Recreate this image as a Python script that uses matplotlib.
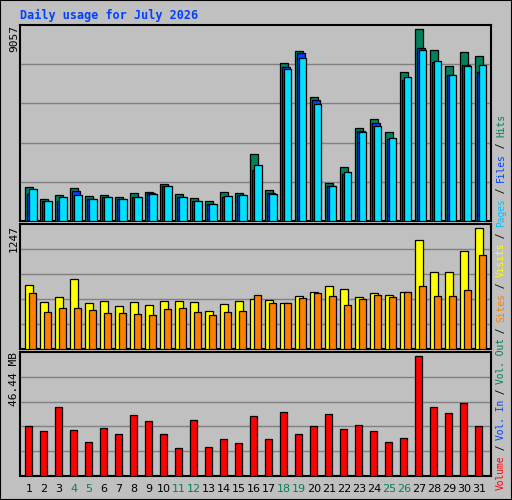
import matplotlib
matplotlib.use("Agg")
import matplotlib.pyplot as plt
import numpy as np

days = list(range(1, 32))
weekend = [4, 5, 11, 12, 18, 19, 25, 26]
hits_y = [562,598,586,565,589,586,592,580,577,553,583,595,604,577,580,463,571,190,154,292,550,502,385,358,397,217,88,151,199,157,169]
files_y = [582,604,602,574,598,592,598,592,578,559,592,604,613,592,586,511,580,202,160,301,559,523,394,370,418,241,145,187,226,196,217]
pages_y = [568,604,592,586,598,592,598,592,583,559,592,604,613,589,586,496,583,208,175,313,559,517,397,379,415,232,151,184,226,199,196]
hits = [round((663 - v) * 15.40) for v in hits_y]
files = [round((663 - v) * 15.40) for v in files_y]
pages = [round((663 - v) * 15.40) for v in pages_y]
visits_y = [196,247,232,178,250,244,259,247,256,244,244,247,274,253,244,238,241,250,229,217,199,208,232,220,226,217,61,157,157,94,25]
sites_y = [220,277,265,265,271,280,280,283,286,268,265,277,286,277,274,226,250,250,235,220,229,256,238,226,232,217,199,229,229,211,106]
visits = [round((386 - v) * 3.343) for v in visits_y]
sites = [round((386 - v) * 3.343) for v in sites_y]
vol_y = [619,634,562,631,667,625,643,586,604,643,685,601,682,658,670,589,658,577,643,619,583,628,616,634,667,655,409,562,580,550,619]
volume = [round((767 - v) * 0.12551, 2) for v in vol_y]
max_hits, max_visits, max_vol = 9057, 1247, 46.44

BG = "#c0c0c0"
GREEN, BLUE, CYAN = "#00805c", "#0040ff", "#00e0ff"
YEL, ORG, RED = "#ffff00", "#ff8000", "#ff0000"
W, H = 512, 500
fig = plt.figure(figsize=(5.12, 5.0), dpi=100, facecolor=BG)

def add_ax(top, bottom):
    ax = fig.add_axes([20 / W, 1 - bottom / H, 471 / W, (bottom - top) / H])
    ax.set_facecolor(BG)
    ax.set_xlim(0, 471 / 15)
    ax.set_xticks([]); ax.set_yticks([])
    for s in ax.spines.values():
        s.set_linewidth(1.5); s.set_color("black")
    return ax

x = np.array(days, dtype=float) - 1 + 1 / 3
kw = dict(align="edge", edgecolor="black", linewidth=0.9, zorder=3)

ax1 = add_ax(25, 221)
ax1.set_ylim(0, max_hits)
for k in range(1, 5):
    ax1.axhline(max_hits * k / 5, color="#808080", lw=1, zorder=1)
ax1.bar(x, hits, width=8 / 15, color=GREEN, **kw)
ax1.bar(x + 2 / 15, files, width=7.5 / 15, color=BLUE, **kw)
ax1.bar(x + 4 / 15, pages, width=7.5 / 15, color=CYAN, **kw)

ax2 = add_ax(224.3, 348.7)
ax2.set_ylim(0, max_visits)
for k in range(1, 5):
    ax2.axhline(max_visits * k / 5, color="#808080", lw=1, zorder=1)
ax2.bar(x, visits, width=8.3 / 15, color=YEL, **kw)
ax2.bar(x + 4 / 15, sites, width=7.3 / 15, color=ORG, **kw)

ax3 = add_ax(352.3, 475.7)
ax3.set_ylim(0, max_vol)
for k in range(1, 5):
    ax3.axhline(max_vol * k / 5, color="#808080", lw=1, zorder=1)
ax3.bar(x, volume, width=7.3 / 15, color=RED, **kw)

mono = "DejaVu Sans Mono"
def px(xp, yp):
    return xp / W, 1 - yp / H

fig.text(*px(20, 15), "Daily usage for July 2026", color=BLUE, family=mono,
         fontweight="bold", fontsize=8.5, va="center", ha="left")
for yp, lab in [(25, "9057"), (224.5, "1247"), (352.5, "46.44 MB")]:
    fig.text(*px(14, yp), lab, rotation=90, family=mono, fontsize=8,
             ha="center", va="top")
for d in days:
    xc = 20 + 5 + 15 * (d - 1) + 4
    fig.text(*px(xc, 489), str(d), fontsize=8, ha="center", va="center",
             color=GREEN if d in weekend else "black")

pieces = [("Volume", RED), (" / ", "black"), ("Vol. In", BLUE), (" / ", "black"),
          ("Vol. Out", GREEN), (" / ", "black"), ("Sites", ORG), (" / ", "black"),
          ("Visits", YEL), (" / ", "black"), ("Pages", "#00c0ff"), (" / ", "black"),
          ("Files", BLUE), (" / ", "black"), ("Hits", GREEN)]
step = 375 / 67
yp = 490
for txt, col in pieces:
    fig.text(*px(501, yp), txt, rotation=90, family=mono, fontsize=6.9,
             color=col, ha="center", va="bottom")
    yp -= step * len(txt)

# outer frame
from matplotlib.patches import Rectangle
fig.patches.append(Rectangle((0, 0), 1, 1, transform=fig.transFigure, fill=False,
                             edgecolor="black", lw=1.5))
fig.savefig("out.png", dpi=100, facecolor=BG)
